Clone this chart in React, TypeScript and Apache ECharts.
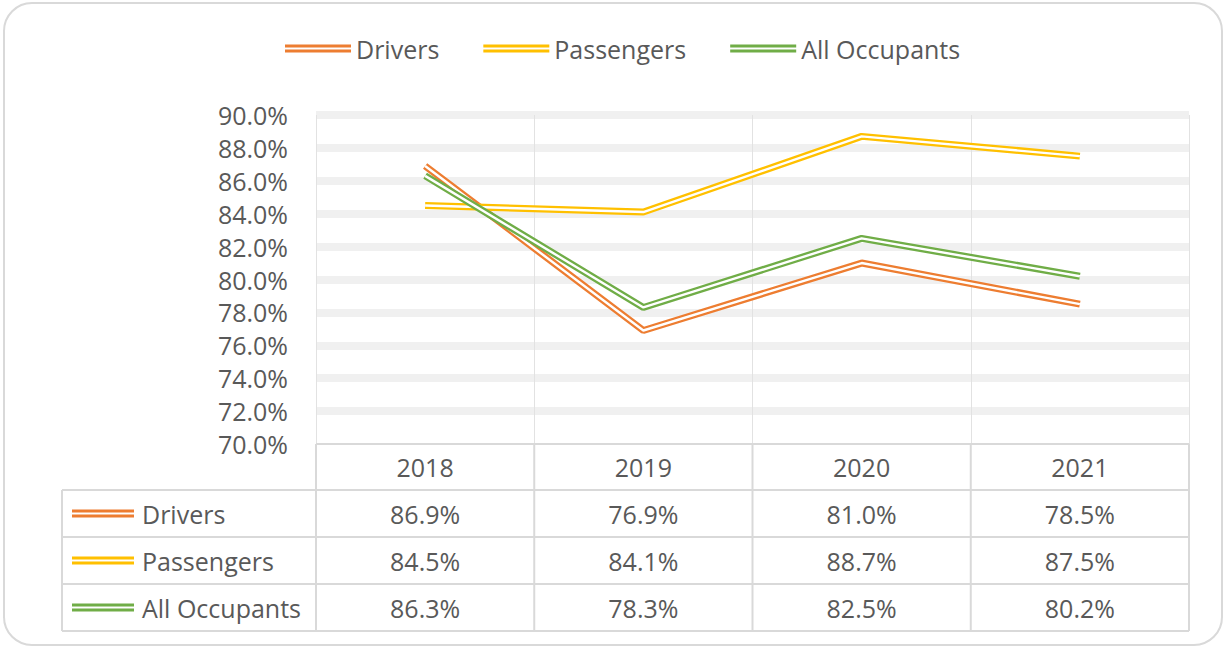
import React, { useEffect, useRef } from "react";
import * as echarts from "echarts";

const CATEGORIES = ["2018", "2019", "2020", "2021"];
const DRIVERS = [86.9, 76.9, 81.0, 78.5];
const PASSENGERS = [84.5, 84.1, 88.7, 87.5];
const ALL_OCCUPANTS = [86.3, 78.3, 82.5, 80.2];
const SERIES_NAMES = ["Drivers", "Passengers", "All Occupants"];
const SERIES_COLORS = ["#ED7D31", "#FFC000", "#70AD47"];
const Y_MIN = 70;
const Y_MAX = 90;
const Y_STEP = 2;

const FONT = "'Open Sans', sans-serif";
const TEXT_COLOR = "#595959";
const BORDER = "#d9d9d9";

export default function App() {
  const ref = useRef<HTMLDivElement>(null);
  useEffect(() => {
    if (!ref.current) return;
    const chart = echarts.init(ref.current, null, { renderer: "svg" });
    const seriesData = [DRIVERS, PASSENGERS, ALL_OCCUPANTS];
    const series: any[] = [];
    SERIES_NAMES.forEach((name, i) => {
      series.push({
        type: "line",
        name,
        data: seriesData[i],
        symbol: "none",
        silent: true,
        lineStyle: { color: SERIES_COLORS[i], width: 7 },
        itemStyle: { color: SERIES_COLORS[i] },
      });
      series.push({
        type: "line",
        name: name + " gap",
        data: seriesData[i],
        symbol: "none",
        silent: true,
        lineStyle: { color: "#ffffff", width: 2.4 },
        itemStyle: { color: "#ffffff" },
      });
    });

    chart.setOption({
      animation: false,
      textStyle: { fontFamily: FONT },
      legend: {
        data: SERIES_NAMES,
        left: 280,
        top: 31,
        itemWidth: 66,
        itemHeight: 8,
        itemGap: 44,
        icon: "path://M0,0H66V3H0Z M0,5H66V8H0Z",
        itemStyle: { borderWidth: 0 },
        textStyle: { fontSize: 25, color: TEXT_COLOR, fontFamily: FONT },
        selectedMode: false,
      },
      grid: { left: 316, right: 36, top: 115, bottom: 204 },
      xAxis: {
        type: "category",
        data: CATEGORIES,
        boundaryGap: true,
        axisLine: { show: false },
        axisTick: { show: false },
        axisLabel: { show: false },
        splitLine: { show: true, lineStyle: { color: "#e2e2e2", width: 1 } },
      },
      yAxis: {
        type: "value",
        min: Y_MIN,
        max: Y_MAX,
        interval: Y_STEP,
        axisLine: { show: false },
        axisTick: { show: false },
        axisLabel: {
          fontSize: 25,
          color: TEXT_COLOR,
          fontFamily: FONT,
          margin: 28,
          formatter: (v: number) => v.toFixed(1) + "%",
        },
        splitLine: {
          show: true,
          showMinLine: false,
          lineStyle: { color: "#f0f0f0", width: 8 },
        },
      },
      series,
    });

    // data table below the plot, aligned with the category axis
    const c0 = chart.convertToPixel({ xAxisIndex: 0 }, CATEGORIES[0]) as number;
    const c1 = chart.convertToPixel({ xAxisIndex: 0 }, CATEGORIES[1]) as number;
    const cw = c1 - c0;
    const plotLeft = c0 - cw / 2;
    const plotRight = plotLeft + cw * CATEGORIES.length;
    const yBottom = chart.convertToPixel({ yAxisIndex: 0 }, Y_MIN) as number;
    const headerH = 46;
    const rowH = 47;
    const tableLeft = 62;
    const tableBottom = yBottom + headerH + rowH * SERIES_NAMES.length;

    const g: any[] = [];
    const lineStyle = { stroke: BORDER, lineWidth: 2 };
    // outer rounded border
    g.push({
      type: "rect",
      shape: { x: 4, y: 3, width: 1218, height: 642, r: 28 },
      style: { fill: "none", stroke: BORDER, lineWidth: 2 },
      silent: true,
    });
    // horizontal lines
    g.push({ type: "line", shape: { x1: plotLeft, y1: yBottom, x2: plotRight, y2: yBottom }, style: lineStyle });
    for (let r = 0; r <= SERIES_NAMES.length; r++) {
      const y = yBottom + headerH + rowH * r;
      g.push({ type: "line", shape: { x1: tableLeft, y1: y, x2: plotRight, y2: y }, style: lineStyle });
    }
    // vertical lines
    g.push({ type: "line", shape: { x1: tableLeft, y1: yBottom + headerH, x2: tableLeft, y2: tableBottom }, style: lineStyle });
    for (let c = 0; c <= CATEGORIES.length; c++) {
      const x = plotLeft + cw * c;
      g.push({ type: "line", shape: { x1: x, y1: yBottom, x2: x, y2: tableBottom }, style: lineStyle });
    }
    // header texts
    CATEGORIES.forEach((cat, c) => {
      g.push({
        type: "text",
        x: plotLeft + cw * (c + 0.5),
        y: yBottom + headerH / 2,
        style: { text: cat, fontSize: 25, fill: TEXT_COLOR, fontFamily: FONT, align: "center", verticalAlign: "middle" },
      });
    });
    // rows
    SERIES_NAMES.forEach((name, r) => {
      const yc = yBottom + headerH + rowH * (r + 0.5);
      g.push({ type: "rect", shape: { x: 72, y: yc - 4, width: 62, height: 3 }, style: { fill: SERIES_COLORS[r] } });
      g.push({ type: "rect", shape: { x: 72, y: yc + 1, width: 62, height: 3 }, style: { fill: SERIES_COLORS[r] } });
      g.push({
        type: "text",
        x: 142,
        y: yc,
        style: { text: name, fontSize: 25, fill: TEXT_COLOR, fontFamily: FONT, align: "left", verticalAlign: "middle" },
      });
      seriesData[r].forEach((v, c) => {
        g.push({
          type: "text",
          x: plotLeft + cw * (c + 0.5),
          y: yc,
          style: {
            text: v.toFixed(1) + "%",
            fontSize: 25,
            fill: TEXT_COLOR,
            fontFamily: FONT,
            align: "center",
            verticalAlign: "middle",
          },
        });
      });
    });
    chart.setOption({ graphic: g });

    return () => chart.dispose();
  }, []);

  return (
    <div
      ref={ref}
      style={{ position: "fixed", left: 0, top: 0, width: 1225, height: 648, background: "#fff" }}
    />
  );
}
